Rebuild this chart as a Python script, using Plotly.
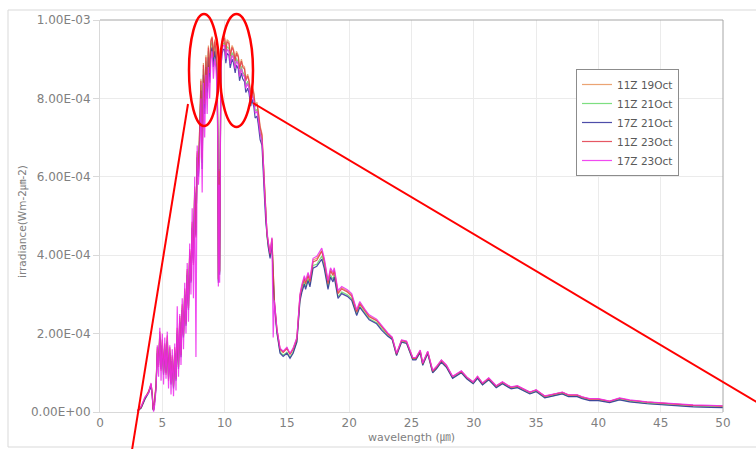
import plotly.graph_objects as go
import numpy as np

# wavelength (um)
wavelength = [
    3.0, 3.3, 3.6, 3.9, 4.1, 4.2, 4.25, 4.3, 4.4, 4.5,
    4.6, 4.7, 4.8, 4.9, 5.0, 5.1, 5.2, 5.3, 5.4, 5.5, 5.6, 5.7, 5.8, 5.9, 6.0, 6.1, 6.2,
    6.3, 6.4, 6.5, 6.6, 6.7, 6.8, 6.9, 7.0, 7.1, 7.2, 7.3, 7.4, 7.5, 7.6, 7.7, 7.8, 7.9,
    8.0, 8.1, 8.2, 8.3, 8.4, 8.5, 8.6, 8.7, 8.8, 8.9, 9.0, 9.1, 9.2, 9.3, 9.4,
    9.45, 9.5, 9.55, 9.6, 9.7,
    9.8, 9.9, 10.0, 10.1, 10.2, 10.35, 10.45, 10.6, 10.7, 10.85, 10.95, 11.1, 11.2, 11.35,
    11.45, 11.6, 11.7, 11.85, 11.95, 12.1, 12.2, 12.35, 12.45, 12.6, 12.7, 12.85, 13.0,
    13.1, 13.2, 13.3, 13.4, 13.5, 13.65, 13.8, 13.9, 14.0, 14.2, 14.45, 14.7, 15.0, 15.25,
    15.5, 15.8, 16.05, 16.2, 16.4, 16.5, 16.7, 16.85, 17.1, 17.4, 17.8, 18.0, 18.3, 18.5,
    18.7, 18.8, 19.1, 19.4, 19.85, 20.2, 20.6, 20.85, 21.3, 21.6, 22.2, 22.6, 23.1,
    23.45, 23.8, 24.2, 24.6, 25.1, 25.35, 25.7, 25.9, 26.3, 26.7, 27.0, 27.4, 27.8, 28.3,
    29.0, 29.45, 29.95, 30.3, 30.7, 31.2, 31.8, 32.3, 32.7, 33.0, 33.5, 34.0, 34.5, 35.0,
    35.7, 36.4, 37.1, 37.6, 38.3, 38.7, 39.3, 40.0, 40.9, 41.7, 42.5, 43.9, 45.2, 46.3,
    47.6, 49.0, 50.0,
]

# irradiance values in units of 1e-6 W m-2 um-2
irr_11Z_19Oct = [
    3, 12, 35, 52, 70, 45, 10, 5, 35, 70,
    160, 130, 200, 120, 180, 105, 170, 110, 190, 95, 160, 80, 140, 70, 160, 90, 210,
    120, 240, 150, 270, 200, 310, 230, 360, 270, 410, 340, 480, 390, 570, 460, 660, 610,
    730, 850, 650, 890, 790, 910, 830, 935, 870, 950, 958, 910, 950, 930, 880,
    720, 340, 620, 360, 900,
    945, 955, 958, 925, 950, 945, 912, 935, 928, 900, 920, 910, 880, 900,
    885, 880, 850, 862, 850, 815, 835, 815, 785, 790, 770, 730, 710,
    642, 562, 502, 456, 433, 403, 443, 346, 281, 211, 161, 153, 164, 148,
    161, 188, 298, 322, 344, 331, 352, 336, 388, 392, 412, 388, 331, 364,
    352, 364, 306, 317, 309, 299, 258, 279, 258, 245, 235, 219, 200,
    190, 149, 183, 180, 138, 138, 157, 124, 154, 105, 115, 132, 119, 90,
    104, 88, 76, 90, 73, 86, 66, 76, 68, 63, 66, 58, 50, 56,
    40, 45, 50, 43, 43, 38, 33, 33, 27, 35, 30, 25, 22, 20,
    17, 16, 15,
]
irr_11Z_21Oct = [
    3, 11, 33, 50, 68, 42, 9, 4, 32, 66,
    155, 125, 195, 115, 175, 100, 165, 105, 185, 90, 155, 75, 135, 65, 155, 85, 205,
    115, 235, 145, 265, 195, 305, 225, 355, 265, 405, 335, 475, 385, 565, 455, 655, 605,
    715, 835, 635, 875, 775, 895, 815, 920, 855, 935, 945, 895, 935, 915, 865,
    710, 335, 610, 355, 890,
    930, 940, 942, 908, 932, 927, 895, 917, 910, 882, 902, 892, 862, 882,
    867, 860, 832, 844, 832, 798, 816, 796, 768, 772, 752, 713, 695,
    632, 552, 492, 448, 425, 396, 435, 340, 275, 205, 153, 145, 152, 140,
    152, 180, 288, 310, 332, 319, 340, 324, 374, 377, 398, 372, 318, 350,
    338, 350, 294, 306, 299, 289, 249, 270, 249, 238, 228, 212, 195,
    186, 145, 179, 176, 134, 134, 153, 120, 150, 101, 111, 128, 115, 87,
    101, 85, 73, 87, 70, 83, 63, 73, 65, 60, 63, 55, 47, 53,
    37, 42, 47, 40, 40, 35, 30, 30, 25, 32, 27, 22, 19, 17,
    14, 13, 12,
]
irr_17Z_21Oct = [
    2, 10, 32, 49, 66, 40, 8, 4, 30, 64,
    150, 120, 190, 110, 170, 95, 160, 100, 180, 85, 150, 70, 130, 60, 150, 80, 200,
    110, 230, 140, 260, 190, 300, 220, 350, 260, 400, 330, 470, 380, 560, 450, 650, 600,
    700, 820, 620, 860, 760, 880, 800, 905, 840, 920, 930, 880, 920, 900, 850,
    700, 330, 600, 350, 880,
    915, 925, 925, 890, 915, 910, 878, 900, 892, 865, 885, 875, 845, 865,
    850, 843, 815, 826, 815, 780, 798, 778, 750, 755, 735, 695, 680,
    628, 548, 488, 444, 421, 392, 430, 336, 272, 202, 150, 142, 150, 137,
    150, 178, 283, 305, 326, 313, 335, 319, 367, 372, 390, 366, 313, 344,
    332, 344, 290, 302, 295, 285, 246, 267, 246, 235, 225, 209, 193,
    185, 144, 178, 175, 133, 133, 152, 119, 149, 100, 110, 127, 114, 86,
    100, 84, 72, 86, 69, 82, 62, 72, 64, 59, 62, 54, 46, 52,
    36, 41, 46, 39, 39, 34, 29, 29, 24, 31, 26, 21, 18, 16,
    13, 12, 11,
]
irr_11Z_23Oct = [
    3, 12, 36, 53, 72, 46, 10, 5, 36, 72,
    165, 115, 205, 105, 185, 100, 175, 95, 195, 80, 165, 75, 145, 65, 165, 85, 215,
    115, 245, 145, 275, 195, 315, 225, 365, 265, 415, 335, 485, 375, 575, 445, 665, 615,
    725, 845, 645, 885, 785, 905, 825, 930, 865, 945, 955, 905, 945, 925, 875,
    715, 338, 615, 358, 895,
    940, 950, 953, 920, 945, 940, 907, 930, 923, 895, 915, 905, 875, 895,
    880, 875, 845, 857, 845, 810, 830, 810, 780, 785, 765, 725, 705,
    640, 560, 500, 455, 432, 402, 442, 345, 280, 210, 160, 152, 162, 147,
    160, 186, 295, 318, 340, 327, 348, 332, 383, 387, 410, 383, 327, 360,
    348, 360, 302, 314, 306, 296, 255, 276, 255, 243, 233, 217, 199,
    189, 148, 182, 179, 137, 137, 156, 123, 153, 104, 114, 131, 118, 90,
    104, 88, 76, 90, 73, 86, 66, 76, 68, 63, 66, 58, 50, 56,
    40, 45, 50, 43, 43, 38, 33, 33, 27, 35, 30, 25, 22, 20,
    17, 16, 15,
]
irr_17Z_23Oct = [
    4, 14, 38, 48, 74, 30, 2, 1, 20, 60,
    170, 90, 215, 80, 200, 70, 190, 85, 205, 60, 170, 45, 160, 40, 175, 55, 270,
    90, 250, 120, 290, 160, 330, 200, 380, 230, 430, 300, 520, 290, 600, 140, 680, 580,
    650, 800, 560, 840, 700, 860, 760, 880, 800, 900, 920, 850, 900, 880, 820,
    680, 320, 580, 330, 870,
    925, 935, 935, 900, 925, 920, 888, 910, 903, 876, 896, 886, 856, 876,
    861, 855, 826, 838, 826, 792, 810, 792, 762, 767, 748, 710, 692,
    645, 565, 505, 460, 436, 405, 445, 190, 285, 212, 163, 155, 165, 150,
    163, 190, 300, 325, 348, 335, 356, 340, 392, 397, 418, 392, 335, 368,
    356, 368, 310, 320, 312, 302, 261, 282, 260, 248, 237, 221, 202,
    191, 150, 184, 181, 139, 139, 158, 125, 155, 106, 116, 133, 120, 91,
    105, 89, 77, 91, 74, 87, 67, 77, 69, 64, 67, 59, 51, 57,
    41, 46, 51, 44, 44, 39, 34, 34, 28, 36, 31, 26, 23, 21,
    18, 17, 16,
]

series_names = ["11Z 19Oct", "11Z 21Oct", "17Z 21Oct", "11Z 23Oct", "17Z 23Oct"]
series_values = [irr_11Z_19Oct, irr_11Z_21Oct, irr_17Z_21Oct, irr_11Z_23Oct, irr_17Z_23Oct]
series_colors = ["#E8945A", "#66D96A", "#2E2E9A", "#E23A48", "#EE2AEE"]

x_ticks = [0, 5, 10, 15, 20, 25, 30, 35, 40, 45, 50]
y_tickvals = [0, 2e-4, 4e-4, 6e-4, 8e-4, 1e-3]
y_ticktext = ["0.00E+00", "2.00E-04", "4.00E-04", "6.00E-04", "8.00E-04", "1.00E-03"]

W, H = 756, 449
L, R, T, B = 100, 33, 20, 37
PW, PH = W - L - R, H - T - B


def px(x):
    return (x - L) / PW


def py(y):
    return (H - B - y) / PH


fig = go.Figure()
for name, vals, col in zip(series_names, series_values, series_colors):
    fig.add_trace(go.Scatter(
        x=wavelength, y=np.array(vals) * 1e-6, mode="lines", name=name,
        line=dict(color=col, width=1.2), opacity=0.85,
    ))

font_family = "DejaVu Sans, Liberation Sans, Noto Sans CJK KR, sans-serif"
gray = "#808080"

shapes = [
    # chart-area border
    dict(type="rect", xref="paper", yref="paper", x0=px(8), x1=px(790), y0=py(447), y1=py(10),
         line=dict(color="#D9D9D9", width=1), layer="below"),
    # plot-area top and right border
    dict(type="line", xref="paper", yref="paper", x0=0, x1=1, y0=1, y1=1,
         line=dict(color="#A6A6A6", width=1)),
    dict(type="line", xref="paper", yref="paper", x0=1, x1=1, y0=0, y1=1,
         line=dict(color="#A6A6A6", width=1)),
    # red highlight ellipses
    dict(type="circle", xref="paper", yref="paper", x0=px(189), x1=px(219), y0=py(126), y1=py(14),
         line=dict(color="#FF0000", width=2.5)),
    dict(type="circle", xref="paper", yref="paper", x0=px(220), x1=px(253), y0=py(127), y1=py(14),
         line=dict(color="#FF0000", width=2.5)),
    # red lines
    dict(type="line", xref="paper", yref="paper", x0=px(132), y0=py(450), x1=px(188), y1=py(104),
         line=dict(color="#FF0000", width=2)),
    dict(type="line", xref="paper", yref="paper", x0=px(253), y0=py(103), x1=px(760), y1=py(404),
         line=dict(color="#FF0000", width=2)),
]

fig.update_layout(
    width=W, height=H,
    margin=dict(l=L, r=R, t=T, b=B, pad=0),
    paper_bgcolor="white", plot_bgcolor="white",
    font=dict(family=font_family, size=12, color=gray),
    showlegend=True,
    legend=dict(
        x=px(576), y=py(69), xanchor="left", yanchor="top",
        bgcolor="white", bordercolor="#8C8C8C", borderwidth=1,
        font=dict(family=font_family, size=10.5, color="#595959"),
        itemwidth=30, tracegroupgap=0,
    ),
    xaxis=dict(
        range=[0, 50], tickvals=x_ticks, showgrid=True, gridcolor="#EBEBEB", gridwidth=1,
        showline=True, linecolor="#D9D9D9", linewidth=1, zeroline=False,
        ticks="", tickfont=dict(size=12, color=gray),
    ),
    yaxis=dict(
        range=[0, 1e-3], tickvals=y_tickvals, ticktext=y_ticktext, showgrid=True,
        gridcolor="#EBEBEB", gridwidth=1, showline=True, linecolor="#D9D9D9", linewidth=1,
        zeroline=False, ticks="outside", ticklen=6, tickcolor="#D9D9D9",
        tickfont=dict(size=12, color=gray),
    ),
    shapes=shapes,
    annotations=[
        dict(text="wavelength (㎛)", xref="paper", yref="paper", x=0.5, y=py(437),
             showarrow=False, font=dict(size=11, color=gray), xanchor="center", yanchor="middle"),
        dict(text="irradiance(Wm-2㎛-2)", xref="paper", yref="paper", x=px(22), y=py(221),
             showarrow=False, textangle=-90, font=dict(size=10.5, color=gray),
             xanchor="center", yanchor="middle"),
    ],
)

fig.write_html("out.html")
